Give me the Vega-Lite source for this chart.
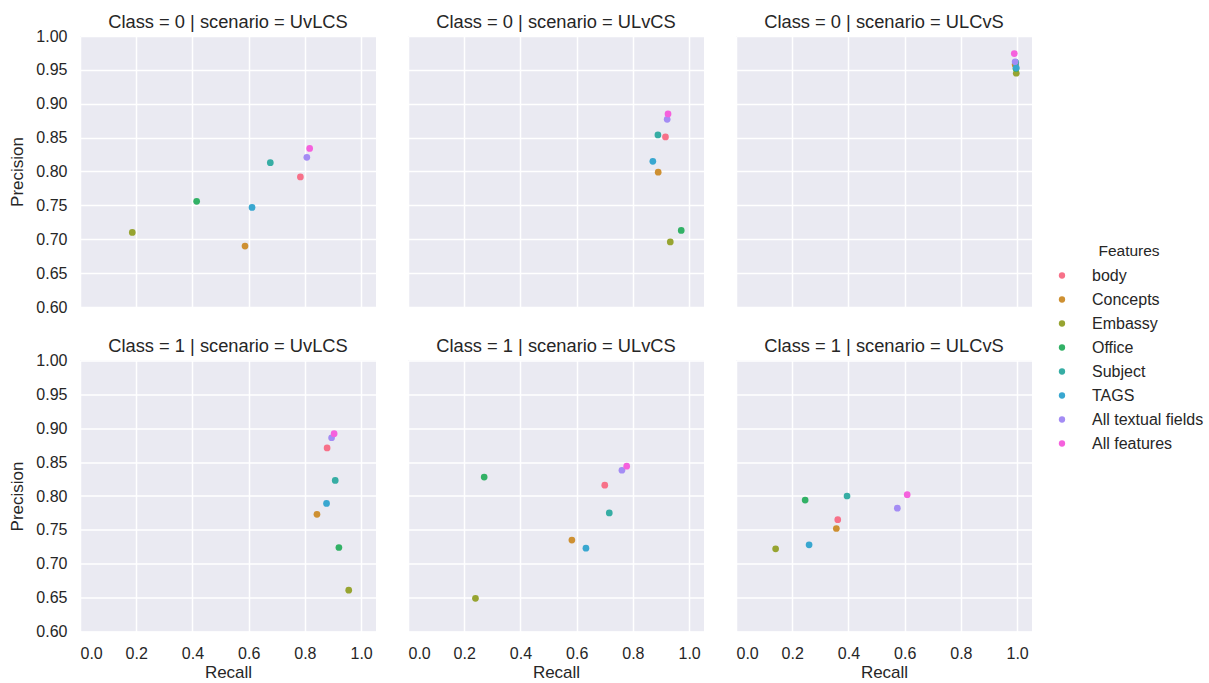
{
  "$schema": "https://vega.github.io/schema/vega-lite/v6.json",
  "background": "white",
  "padding": {"left": 8, "top": 12, "right": 0, "bottom": 0},
  "data": {"values": [
    {"Class": 0, "scenario": "UvLCS", "Features": "body", "Recall": 0.784, "Precision": 0.792},
    {"Class": 0, "scenario": "UvLCS", "Features": "Concepts", "Recall": 0.587, "Precision": 0.690},
    {"Class": 0, "scenario": "UvLCS", "Features": "Embassy", "Recall": 0.186, "Precision": 0.710},
    {"Class": 0, "scenario": "UvLCS", "Features": "Office", "Recall": 0.415, "Precision": 0.756},
    {"Class": 0, "scenario": "UvLCS", "Features": "Subject", "Recall": 0.677, "Precision": 0.813},
    {"Class": 0, "scenario": "UvLCS", "Features": "TAGS", "Recall": 0.612, "Precision": 0.747},
    {"Class": 0, "scenario": "UvLCS", "Features": "All textual fields", "Recall": 0.807, "Precision": 0.821},
    {"Class": 0, "scenario": "UvLCS", "Features": "All features", "Recall": 0.817, "Precision": 0.834},

    {"Class": 0, "scenario": "ULvCS", "Features": "body", "Recall": 0.916, "Precision": 0.851},
    {"Class": 0, "scenario": "ULvCS", "Features": "Concepts", "Recall": 0.890, "Precision": 0.799},
    {"Class": 0, "scenario": "ULvCS", "Features": "Embassy", "Recall": 0.933, "Precision": 0.696},
    {"Class": 0, "scenario": "ULvCS", "Features": "Office", "Recall": 0.972, "Precision": 0.713},
    {"Class": 0, "scenario": "ULvCS", "Features": "Subject", "Recall": 0.889, "Precision": 0.854},
    {"Class": 0, "scenario": "ULvCS", "Features": "TAGS", "Recall": 0.871, "Precision": 0.815},
    {"Class": 0, "scenario": "ULvCS", "Features": "All textual fields", "Recall": 0.922, "Precision": 0.877},
    {"Class": 0, "scenario": "ULvCS", "Features": "All features", "Recall": 0.925, "Precision": 0.885},

    {"Class": 0, "scenario": "ULCvS", "Features": "body", "Recall": 0.995, "Precision": 0.957},
    {"Class": 0, "scenario": "ULCvS", "Features": "Concepts", "Recall": 0.993, "Precision": 0.958},
    {"Class": 0, "scenario": "ULCvS", "Features": "Embassy", "Recall": 0.997, "Precision": 0.945},
    {"Class": 0, "scenario": "ULCvS", "Features": "Office", "Recall": 0.996, "Precision": 0.952},
    {"Class": 0, "scenario": "ULCvS", "Features": "Subject", "Recall": 0.995, "Precision": 0.961},
    {"Class": 0, "scenario": "ULCvS", "Features": "TAGS", "Recall": 0.997, "Precision": 0.953},
    {"Class": 0, "scenario": "ULCvS", "Features": "All textual fields", "Recall": 0.993, "Precision": 0.962},
    {"Class": 0, "scenario": "ULCvS", "Features": "All features", "Recall": 0.990, "Precision": 0.974},

    {"Class": 1, "scenario": "UvLCS", "Features": "body", "Recall": 0.879, "Precision": 0.871},
    {"Class": 1, "scenario": "UvLCS", "Features": "Concepts", "Recall": 0.843, "Precision": 0.773},
    {"Class": 1, "scenario": "UvLCS", "Features": "Embassy", "Recall": 0.956, "Precision": 0.661},
    {"Class": 1, "scenario": "UvLCS", "Features": "Office", "Recall": 0.921, "Precision": 0.724},
    {"Class": 1, "scenario": "UvLCS", "Features": "Subject", "Recall": 0.908, "Precision": 0.823},
    {"Class": 1, "scenario": "UvLCS", "Features": "TAGS", "Recall": 0.877, "Precision": 0.789},
    {"Class": 1, "scenario": "UvLCS", "Features": "All textual fields", "Recall": 0.895, "Precision": 0.886},
    {"Class": 1, "scenario": "UvLCS", "Features": "All features", "Recall": 0.904, "Precision": 0.892},

    {"Class": 1, "scenario": "ULvCS", "Features": "body", "Recall": 0.700, "Precision": 0.816},
    {"Class": 1, "scenario": "ULvCS", "Features": "Concepts", "Recall": 0.583, "Precision": 0.735},
    {"Class": 1, "scenario": "ULvCS", "Features": "Embassy", "Recall": 0.240, "Precision": 0.649},
    {"Class": 1, "scenario": "ULvCS", "Features": "Office", "Recall": 0.271, "Precision": 0.828},
    {"Class": 1, "scenario": "ULvCS", "Features": "Subject", "Recall": 0.716, "Precision": 0.775},
    {"Class": 1, "scenario": "ULvCS", "Features": "TAGS", "Recall": 0.633, "Precision": 0.723},
    {"Class": 1, "scenario": "ULvCS", "Features": "All textual fields", "Recall": 0.761, "Precision": 0.838},
    {"Class": 1, "scenario": "ULvCS", "Features": "All features", "Recall": 0.778, "Precision": 0.844},

    {"Class": 1, "scenario": "ULCvS", "Features": "body", "Recall": 0.362, "Precision": 0.765},
    {"Class": 1, "scenario": "ULCvS", "Features": "Concepts", "Recall": 0.357, "Precision": 0.752},
    {"Class": 1, "scenario": "ULCvS", "Features": "Embassy", "Recall": 0.141, "Precision": 0.722},
    {"Class": 1, "scenario": "ULCvS", "Features": "Office", "Recall": 0.246, "Precision": 0.794},
    {"Class": 1, "scenario": "ULCvS", "Features": "Subject", "Recall": 0.395, "Precision": 0.800},
    {"Class": 1, "scenario": "ULCvS", "Features": "TAGS", "Recall": 0.260, "Precision": 0.728},
    {"Class": 1, "scenario": "ULCvS", "Features": "All textual fields", "Recall": 0.574, "Precision": 0.782},
    {"Class": 1, "scenario": "ULCvS", "Features": "All features", "Recall": 0.609, "Precision": 0.802}
  ]},
  "transform": [
    {"calculate": "'Class = ' + datum.Class + ' | scenario = ' + datum.scenario", "as": "panel"}
  ],
  "columns": 3,
  "spacing": {"row": 29.5, "column": 32},
  "facet": {
    "field": "panel",
    "type": "nominal",
    "sort": [
      "Class = 0 | scenario = UvLCS",
      "Class = 0 | scenario = ULvCS",
      "Class = 0 | scenario = ULCvS",
      "Class = 1 | scenario = UvLCS",
      "Class = 1 | scenario = ULvCS",
      "Class = 1 | scenario = ULCvS"
    ],
    "header": {
      "title": null,
      "labelFont": "Liberation Sans",
      "labelFontSize": 18.3,
      "labelColor": "#262626",
      "labelPadding": 4
    }
  },
  "spec": {
    "width": 296,
    "height": 271,
    "mark": {"type": "point", "filled": true, "size": 45, "opacity": 1},
    "encoding": {
      "x": {
        "field": "Recall",
        "type": "quantitative",
        "scale": {"domain": [0, 1.053], "nice": false, "zero": false},
        "axis": {"values": [0, 0.2, 0.4, 0.6, 0.8, 1.0], "format": ".1f", "title": "Recall", "labelPadding": 13, "titlePadding": 3}
      },
      "y": {
        "field": "Precision",
        "type": "quantitative",
        "scale": {"domain": [0.6, 1.0], "nice": false, "zero": false},
        "axis": {"values": [0.6, 0.65, 0.7, 0.75, 0.8, 0.85, 0.9, 0.95, 1.0], "format": ".2f", "title": "Precision", "labelPadding": 13, "titlePadding": 9}
      },
      "color": {
        "field": "Features",
        "type": "nominal",
        "scale": {
          "domain": ["body", "Concepts", "Embassy", "Office", "Subject", "TAGS", "All textual fields", "All features"],
          "range": ["#f77189", "#ce9032", "#97a431", "#32b166", "#36ada4", "#39a7d0", "#a48cf4", "#f561dd"]
        },
        "legend": {
          "orient": "none",
          "legendX": 974,
          "legendY": 208,
          "title": "Features",
          "titleFont": "Liberation Sans",
          "titleFontSize": 15.5,
          "titleFontWeight": "normal",
          "titleColor": "#262626",
          "titleAnchor": "middle",
          "titlePadding": 8,
          "labelFont": "Liberation Sans",
          "labelFontSize": 16,
          "labelColor": "#262626",
          "labelOffset": 22,
          "symbolType": "circle",
          "symbolSize": 40,
          "symbolStrokeWidth": 0,
          "rowPadding": 8,
          "padding": 0
        }
      }
    }
  },
  "config": {
    "view": {"fill": "#EAEAF2", "stroke": null},
    "axis": {
      "domain": false,
      "ticks": false,
      "grid": true,
      "gridColor": "white",
      "gridWidth": 1.5,
      "labelFont": "Liberation Sans",
      "labelFontSize": 16,
      "labelColor": "#262626",
      "titleFont": "Liberation Sans",
      "titleFontSize": 17,
      "titleFontWeight": "normal",
      "titleColor": "#262626"
    }
  }
}
